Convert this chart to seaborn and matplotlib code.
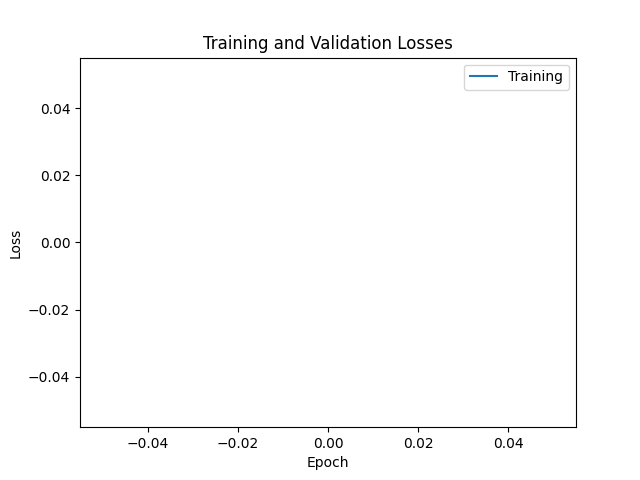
import matplotlib
matplotlib.use('Agg')
import matplotlib.pyplot as plt
import seaborn as sns

#------------------------------------------------------------------------------

#loss history (empty, nothing was recorded)
epochs = []
train_loss = []

#------------------------------------------------------------------------------

fig, ax = plt.subplots(figsize=(6.4, 4.8), dpi=100)
sns.lineplot(x=epochs, y=train_loss, ax=ax, label='Training', color='C0')
if not ax.lines:
    ax.plot(epochs, train_loss, color='C0', label='Training')
ax.set_xlabel('Epoch')
ax.set_ylabel('Loss')
ax.set_title('Training and Validation Losses')
ax.legend(loc='upper right')
fig.savefig('out.png', dpi=100)
plt.close('all')
